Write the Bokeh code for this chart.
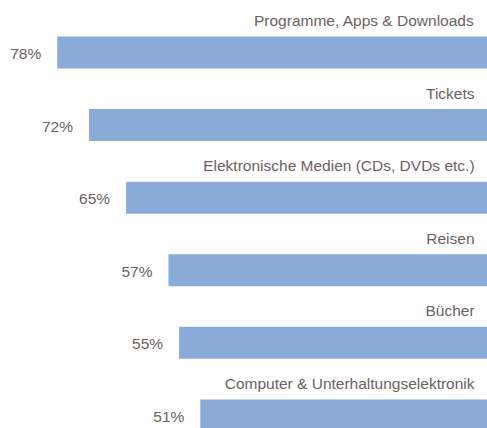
from bokeh.plotting import figure
from bokeh.models import ColumnDataSource, Range1d
from bokeh.embed import file_html
from bokeh.resources import INLINE
from bokeh.core.properties import value

categories = ["Programme, Apps & Downloads", "Tickets", "Elektronische Medien (CDs, DVDs etc.)",
              "Reisen", "Bücher", "Computer & Unterhaltungselektronik"]
values = [78, 72, 65, 57, 55, 51]
pct_labels = [f"{v}%" for v in values]
positions = list(range(len(categories)))

X_END = -3.2
src = ColumnDataSource(dict(y=positions, v=values, cat=categories, pct=pct_labels,
                            base=[X_END] * len(values), zero=[0] * len(values)))

p = figure(width=487, height=428, output_backend="svg", toolbar_location=None,
           x_range=Range1d(88.7, X_END), y_range=Range1d(5.18, -0.716),
           min_border=0, outline_line_color=None)
p.axis.visible = False
p.grid.visible = False
p.background_fill_color = "white"
p.border_fill_color = "white"

p.hbar(y="y", left="v", right="base", height=0.44, source=src,
       fill_color="#8aaad8", line_color=None)

font = value("Liberation Sans")
txt_color = "#6b625f"
p.text(x="zero", y="y", text="cat", source=src, x_offset=4, y_offset=-32,
       text_align="right", text_baseline="middle", text_font=font,
       text_font_size="15.5px", text_color=txt_color)
p.text(x="v", y="y", text="pct", source=src, x_offset=-16, y_offset=1,
       text_align="right", text_baseline="middle", text_font=font,
       text_font_size="15.5px", text_color=txt_color)

open("out.html", "w").write(file_html(p, INLINE))
